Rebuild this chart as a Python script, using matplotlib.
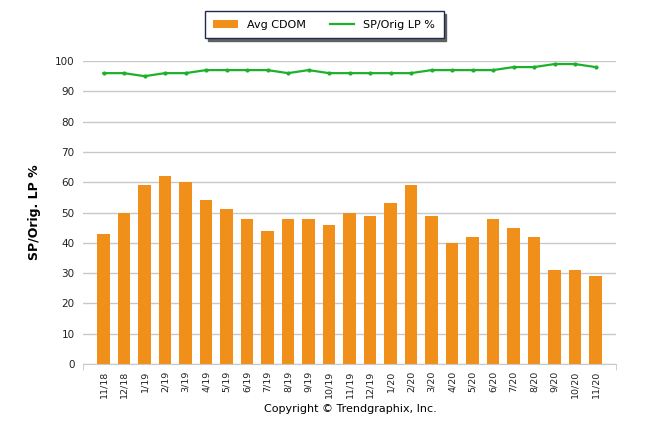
import matplotlib
matplotlib.use("Agg")
import matplotlib.pyplot as plt
from matplotlib.patches import Patch
from matplotlib.lines import Line2D
import numpy as np

months = ["11/18","12/18","1/19","2/19","3/19","4/19","5/19","6/19","7/19","8/19","9/19","10/19",
          "11/19","12/19","1/20","2/20","3/20","4/20","5/20","6/20","7/20","8/20","9/20","10/20","11/20"]
avg_cdom = [43,50,59,62,60,54,51,48,44,48,48,46,50,49,53,59,49,40,42,48,45,42,31,31,29]
sp_orig_lp = [96,96,95,96,96,97,97,97,97,96,97,96,96,96,96,96,97,97,97,97,98,98,99,99,98]

plt.rcParams['font.family'] = ['DejaVu Sans']
fig = plt.figure(figsize=(6.46, 4.34), dpi=100)
ax = fig.add_axes([0.1285, 0.1613, 0.8251, 0.6981])

x = np.arange(len(months))
bar_c = "#F0901A"
line_c = "#1DB12B"
ax.bar(x, avg_cdom, width=0.62, color=bar_c, zorder=2)
ax.plot(x, sp_orig_lp, color=line_c, lw=1.6, marker='o', ms=2, zorder=3)

ax.set_xlim(-1, len(months))
ax.set_ylim(0, 100)
ax.set_yticks(np.arange(0, 101, 10))
ax.yaxis.grid(True, color="#C8C8C8", lw=1, zorder=0)
ax.set_axisbelow(True)
for s in ["top", "right", "left"]:
    ax.spines[s].set_visible(False)
ax.spines["bottom"].set_color("#C8C8C8")
ax.tick_params(axis='y', length=0, labelsize=7.5, colors="#222222", pad=6)
ax.set_xticks(x)
ax.set_xticklabels(months, rotation=90, fontsize=6.8, color="#222222")
ax.tick_params(axis='x', length=0, pad=5)
ax.set_xticks([-1, len(months)], minor=True)
ax.tick_params(axis='x', which='minor', length=4, color="#C8C8C8")
ax.set_ylabel("SP/Orig. LP %", fontsize=9, fontweight='bold', labelpad=10)

fig.text(0.542, 0.057, "Copyright \u00a9 Trendgraphix, Inc.", ha='center', va='center', fontsize=8)

handles = [Patch(facecolor=bar_c, edgecolor='none'), Line2D([0], [0], color=line_c, lw=1.6)]
leg = fig.legend(handles, ["Avg CDOM", "SP/Orig LP %"], loc='center', bbox_to_anchor=(0.502, 0.943),
                 ncol=2, fontsize=8, frameon=True, fancybox=False,
                 shadow={'color': '#555555', 'alpha': 0.9, 'ox': 2, 'oy': -2},
                 handlelength=2.2, handleheight=0.7, columnspacing=2.2, borderpad=0.75)
leg.get_frame().set_edgecolor("#1F2A4F")
leg.get_frame().set_linewidth(1)

fig.savefig("out.png", dpi=100)
